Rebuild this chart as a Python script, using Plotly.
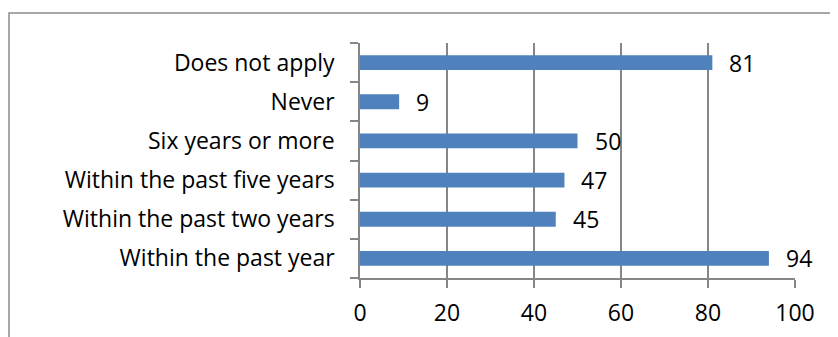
import plotly.graph_objects as go

categories = ["Within the past year", "Within the past two years", "Within the past five years",
              "Six years or more", "Never", "Does not apply"]
values = [94, 45, 47, 50, 9, 81]
x_ticks = [0, 20, 40, 60, 80, 100]

FONT = "Open Sans"
FS = 23
L, T, PW, PH = 352, 35, 435, 235
W, H = 838, 337

fig = go.Figure()
fig.add_trace(go.Bar(
    y=categories, x=values, orientation="h",
    marker=dict(color="#4F81BD", line=dict(width=0)),
    hoverinfo="skip",
))
for c, v in zip(categories, values):
    fig.add_annotation(x=v, y=c, text=str(v), showarrow=False, xanchor="left",
                       xshift=15, font=dict(family=FONT, size=FS, color="#000"))

fig.update_layout(
    width=W, height=H,
    margin=dict(l=L, r=W - L - PW, t=T, b=H - T - PH, autoexpand=False),
    paper_bgcolor="white", plot_bgcolor="white",
    bargap=0.62, showlegend=False,
    font=dict(family=FONT, size=FS, color="#000"),
    shapes=[dict(type="rect", xref="paper", yref="paper",
                 x0=(1 - L) / PW, x1=1.3, y0=-0.5, y1=(T + PH - 5) / PH,
                 line=dict(color="#8c8c8c", width=1.5), fillcolor="rgba(0,0,0,0)", layer="below")],
)
fig.update_xaxes(range=[0, 100], tickvals=x_ticks, ticks="outside", ticklen=8, tickcolor="#868686",
                 tickwidth=1.5, showgrid=True, gridcolor="#868686", gridwidth=1.5, zeroline=False,
                 showline=True, linecolor="#868686", linewidth=1.5, ticklabelstandoff=6)
fig.update_yaxes(categoryorder="array", categoryarray=categories, range=[-0.5, 5.5],
                 ticks="outside", tickson="boundaries", ticklen=8, tickcolor="#868686", tickwidth=1.5,
                 showline=True, linecolor="#868686", linewidth=1.5, showgrid=False,
                 ticklabelstandoff=19)

fig.write_html("out.html")
